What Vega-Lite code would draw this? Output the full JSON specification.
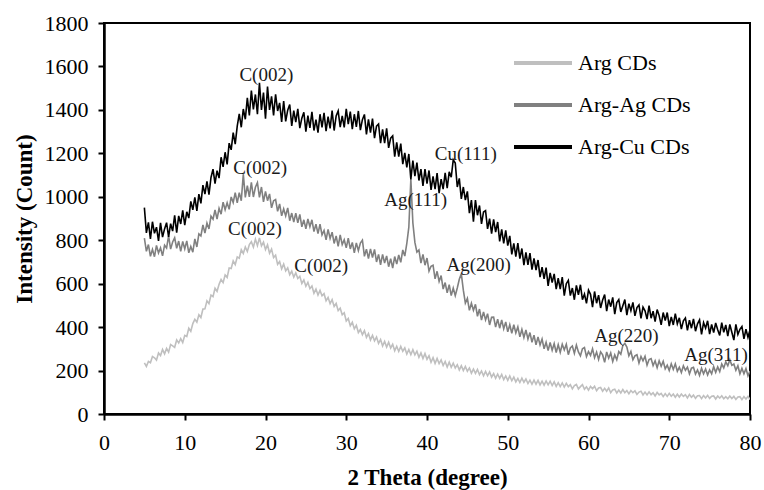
{
  "$schema": "https://vega.github.io/schema/vega-lite/v6.json",
  "width": 646,
  "height": 391,
  "autosize": {"type": "none"},
  "padding": {"left": 104, "top": 23, "right": 14, "bottom": 76},
  "config": {
    "font": "Liberation Serif",
    "view": {"stroke": "#000000", "strokeWidth": 2},
    "axis": {
      "domainColor": "#000000", "domainWidth": 2.5, "tickColor": "#000000", "tickWidth": 2, "tickSize": 6,
      "labelFont": "Liberation Serif", "labelFontSize": 22, "labelColor": "#000000",
      "titleFont": "Liberation Serif", "titleFontSize": 23, "titleFontWeight": "bold", "titleColor": "#000000",
      "grid": false
    },
    "legend": {"labelFont": "Liberation Serif", "labelFontSize": 22, "labelColor": "#000000"}
  },
  "datasets": {
    "xrd": [
{"x":5,"a":235,"b":810,"c":950},{"x":5.25,"a":219,"b":749,"c":834},{"x":5.5,"a":242,"b":780,"c":882},{"x":5.75,"a":236,"b":726,"c":806},
{"x":6,"a":265,"b":758,"c":885},{"x":6.25,"a":259,"b":724,"c":832},{"x":6.5,"a":248,"b":776,"c":860},{"x":6.75,"a":281,"b":741,"c":797},
{"x":7,"a":269,"b":765,"c":880},{"x":7.25,"a":297,"b":728,"c":814},{"x":7.5,"a":277,"b":777,"c":852},{"x":7.75,"a":302,"b":764,"c":881},
{"x":8,"a":285,"b":820,"c":815},{"x":8.25,"a":320,"b":759,"c":876},{"x":8.5,"a":314,"b":792,"c":842},{"x":8.75,"a":307,"b":811,"c":914},
{"x":9,"a":341,"b":763,"c":835},{"x":9.25,"a":327,"b":796,"c":912},{"x":9.5,"a":347,"b":749,"c":875},{"x":9.75,"a":329,"b":794,"c":937},
{"x":10,"a":362,"b":760,"c":870},{"x":10.25,"a":357,"b":797,"c":931},{"x":10.5,"a":395,"b":742,"c":902},{"x":10.75,"a":381,"b":771,"c":979},
{"x":11,"a":416,"b":745,"c":940},{"x":11.25,"a":436,"b":806,"c":997},{"x":11.5,"a":423,"b":769,"c":935},{"x":11.75,"a":457,"b":829,"c":1012},
{"x":12,"a":444,"b":820,"c":970},{"x":12.25,"a":483,"b":870,"c":1054},{"x":12.5,"a":484,"b":833,"c":1012},{"x":12.75,"a":521,"b":879,"c":1071},
{"x":13,"a":508,"b":852,"c":1010},{"x":13.25,"a":547,"b":911,"c":1089},{"x":13.5,"a":540,"b":897,"c":1127},{"x":13.75,"a":579,"b":939,"c":1061},
{"x":14,"a":565,"b":897,"c":1120},{"x":14.25,"a":597,"b":947,"c":1086},{"x":14.5,"a":619,"b":920,"c":1182},{"x":14.75,"a":605,"b":975,"c":1138},
{"x":15,"a":640,"b":940,"c":1205},{"x":15.25,"a":629,"b":972,"c":1149},{"x":15.5,"a":672,"b":942,"c":1247},{"x":15.75,"a":670,"b":999,"c":1216},
{"x":16,"a":705,"b":973,"c":1295},{"x":16.25,"a":688,"b":1019,"c":1242},{"x":16.5,"a":723,"b":972,"c":1325},{"x":16.75,"a":717,"b":1019,"c":1382},
{"x":17,"a":756,"b":982,"c":1320},{"x":17.25,"a":739,"b":1104,"c":1404},{"x":17.5,"a":769,"b":997,"c":1357},{"x":17.75,"a":748,"b":1051,"c":1456},
{"x":18,"a":780,"b":1000,"c":1375},{"x":18.25,"a":793,"b":1066,"c":1489},{"x":18.5,"a":768,"b":999,"c":1402},{"x":18.75,"a":805,"b":1044,"c":1471},
{"x":19,"a":775,"b":1065,"c":1380},{"x":19.25,"a":811,"b":997,"c":1525},{"x":19.5,"a":774,"b":1045,"c":1400},{"x":19.75,"a":791,"b":977,"c":1480},
{"x":20,"a":757,"b":1025,"c":1360},{"x":20.25,"a":779,"b":982,"c":1507},{"x":20.5,"a":740,"b":1013,"c":1400},{"x":20.75,"a":759,"b":949,"c":1462},
{"x":21,"a":720,"b":982,"c":1375},{"x":21.25,"a":731,"b":987,"c":1472},{"x":21.5,"a":689,"b":933,"c":1395},{"x":21.75,"a":702,"b":967,"c":1432},
{"x":22,"a":668,"b":912,"c":1345},{"x":22.25,"a":690,"b":944,"c":1441},{"x":22.5,"a":659,"b":912,"c":1347},{"x":22.75,"a":673,"b":949,"c":1399},
{"x":23,"a":641,"b":890,"c":1425},{"x":23.25,"a":657,"b":925,"c":1326},{"x":23.5,"a":630,"b":883,"c":1397},{"x":23.75,"a":650,"b":925,"c":1344},
{"x":24,"a":624,"b":880,"c":1405},{"x":24.25,"a":634,"b":919,"c":1316},{"x":24.5,"a":601,"b":862,"c":1362},{"x":24.75,"a":617,"b":894,"c":1389},
{"x":25,"a":588,"b":852,"c":1300},{"x":25.25,"a":606,"b":898,"c":1374},{"x":25.5,"a":577,"b":862,"c":1317},{"x":25.75,"a":589,"b":894,"c":1391},
{"x":26,"a":556,"b":840,"c":1305},{"x":26.25,"a":575,"b":874,"c":1355},{"x":26.5,"a":548,"b":830,"c":1295},{"x":26.75,"a":569,"b":874,"c":1380},
{"x":27,"a":544,"b":825,"c":1320},{"x":27.25,"a":554,"b":845,"c":1386},{"x":27.5,"a":521,"b":802,"c":1302},{"x":27.75,"a":537,"b":850,"c":1369},
{"x":28,"a":508,"b":808,"c":1315},{"x":28.25,"a":526,"b":837,"c":1397},{"x":28.5,"a":495,"b":785,"c":1305},{"x":28.75,"a":509,"b":820,"c":1372},
{"x":29,"a":476,"b":772,"c":1395},{"x":29.25,"a":487,"b":825,"c":1321},{"x":29.5,"a":457,"b":780,"c":1372},{"x":29.75,"a":466,"b":802,"c":1319},
{"x":30,"a":428,"b":765,"c":1405},{"x":30.25,"a":440,"b":810,"c":1334},{"x":30.5,"a":406,"b":760,"c":1392},{"x":30.75,"a":422,"b":790,"c":1311},
{"x":31,"a":392,"b":742,"c":1380},{"x":31.25,"a":408,"b":788,"c":1322},{"x":31.5,"a":375,"b":752,"c":1395},{"x":31.75,"a":389,"b":787,"c":1307},
{"x":32,"a":365,"b":800,"c":1355},{"x":32.25,"a":384,"b":726,"c":1379},{"x":32.5,"a":353,"b":759,"c":1287},{"x":32.75,"a":370,"b":716,"c":1356},
{"x":33,"a":341,"b":760,"c":1295},{"x":33.25,"a":362,"b":720,"c":1360},{"x":33.5,"a":337,"b":758,"c":1270},{"x":33.75,"a":354,"b":700,"c":1325},
{"x":34,"a":325,"b":735,"c":1335},{"x":34.25,"a":343,"b":687,"c":1247},{"x":34.5,"a":313,"b":735,"c":1310},{"x":34.75,"a":334,"b":695,"c":1247},
{"x":35,"a":308,"b":728,"c":1315},{"x":35.25,"a":330,"b":678,"c":1225},{"x":35.5,"a":304,"b":715,"c":1270},{"x":35.75,"a":321,"b":672,"c":1280},
{"x":36,"a":291,"b":725,"c":1185},{"x":36.25,"a":312,"b":690,"c":1250},{"x":36.5,"a":288,"b":732,"c":1185},{"x":36.75,"a":311,"b":698,"c":1245},
{"x":37,"a":289,"b":755,"c":1150},{"x":37.25,"a":304,"b":727,"c":1202},{"x":37.5,"a":276,"b":785,"c":1135},{"x":37.75,"a":297,"b":860,"c":1197},
{"x":38,"a":273,"b":1080,"c":1080},{"x":38.25,"a":296,"b":880,"c":1167},{"x":38.5,"a":272,"b":790,"c":1095},{"x":38.75,"a":289,"b":745,"c":1157},
{"x":39,"a":261,"b":755,"c":1075},{"x":39.25,"a":281,"b":695,"c":1127},{"x":39.5,"a":255,"b":735,"c":1050},{"x":39.75,"a":278,"b":685,"c":1127},
{"x":40,"a":252,"b":718,"c":1060},{"x":40.25,"a":268,"b":658,"c":1121},{"x":40.5,"a":238,"b":680,"c":1032},{"x":40.75,"a":259,"b":685,"c":1094},
{"x":41,"a":233,"b":622,"c":1035},{"x":41.25,"a":256,"b":657,"c":1109},{"x":41.5,"a":232,"b":610,"c":1017},{"x":41.75,"a":249,"b":637,"c":1081},
{"x":42,"a":223,"b":575,"c":1035},{"x":42.25,"a":242,"b":605,"c":1110},{"x":42.5,"a":216,"b":558,"c":1040},{"x":42.75,"a":239,"b":595,"c":1115},
{"x":43,"a":215,"b":545,"c":1090},{"x":43.25,"a":234,"b":580,"c":1170},{"x":43.5,"a":212,"b":545,"c":1155},{"x":43.75,"a":227,"b":580,"c":1045},
{"x":44,"a":203,"b":620,"c":1085},{"x":44.25,"a":222,"b":645,"c":990},{"x":44.5,"a":200,"b":570,"c":1045},{"x":44.75,"a":219,"b":510,"c":985},
{"x":45,"a":197,"b":532,"c":1025},{"x":45.25,"a":212,"b":477,"c":925},{"x":45.5,"a":188,"b":510,"c":985},{"x":45.75,"a":207,"b":477,"c":885},
{"x":46,"a":187,"b":505,"c":985},{"x":46.25,"a":205,"b":450,"c":915},{"x":46.5,"a":181,"b":483,"c":960},{"x":46.75,"a":198,"b":432,"c":875},
{"x":47,"a":176,"b":470,"c":930},{"x":47.25,"a":196,"b":433,"c":936},{"x":47.5,"a":176,"b":462,"c":852},{"x":47.75,"a":194,"b":410,"c":899},
{"x":48,"a":170,"b":445,"c":830},{"x":48.25,"a":186,"b":446,"c":896},{"x":48.5,"a":164,"b":400,"c":837},{"x":48.75,"a":184,"b":437,"c":884},
{"x":49,"a":164,"b":395,"c":795},{"x":49.25,"a":182,"b":433,"c":850},{"x":49.5,"a":158,"b":392,"c":785},{"x":49.75,"a":175,"b":424,"c":845},
{"x":50,"a":155,"b":378,"c":775},{"x":50.25,"a":175,"b":411,"c":820},{"x":50.5,"a":153,"b":372,"c":735},{"x":50.75,"a":170,"b":411,"c":785},
{"x":51,"a":148,"b":373,"c":725},{"x":51.25,"a":164,"b":401,"c":787},{"x":51.5,"a":145,"b":355,"c":715},{"x":51.75,"a":165,"b":389,"c":762},
{"x":52,"a":146,"b":352,"c":685},{"x":52.25,"a":161,"b":387,"c":744},{"x":52.5,"a":140,"b":345,"c":687},{"x":52.75,"a":156,"b":375,"c":741},
{"x":53,"a":137,"b":330,"c":665},{"x":53.25,"a":156,"b":363,"c":716},{"x":53.5,"a":137,"b":318,"c":662},{"x":53.75,"a":155,"b":355,"c":709},
{"x":54,"a":134,"b":318,"c":630},{"x":54.25,"a":151,"b":345,"c":676},{"x":54.5,"a":133,"b":300,"c":622},{"x":54.75,"a":152,"b":330,"c":674},
{"x":55,"a":134,"b":292,"c":590},{"x":55.25,"a":151,"b":329,"c":650},{"x":55.5,"a":131,"b":293,"c":605},{"x":55.75,"a":148,"b":324,"c":645},
{"x":56,"a":127,"b":283,"c":575},{"x":56.25,"a":144,"b":319,"c":625},{"x":56.5,"a":126,"b":284,"c":575},{"x":56.75,"a":143,"b":321,"c":630},
{"x":57,"a":124,"b":295,"c":545},{"x":57.25,"a":141,"b":321,"c":600},{"x":57.5,"a":126,"b":273,"c":615},{"x":57.75,"a":135,"b":304,"c":545},
{"x":58,"a":116,"b":313,"c":580},{"x":58.25,"a":131,"b":279,"c":526},{"x":58.5,"a":136,"b":317,"c":592},{"x":58.75,"a":115,"b":286,"c":549},
{"x":59,"a":126,"b":268,"c":595},{"x":59.25,"a":135,"b":300,"c":526},{"x":59.5,"a":114,"b":306,"c":552},{"x":59.75,"a":125,"b":264,"c":509},
{"x":60,"a":110,"b":287,"c":570},{"x":60.25,"a":127,"b":270,"c":551},{"x":60.5,"a":116,"b":300,"c":492},{"x":60.75,"a":128,"b":259,"c":564},
{"x":61,"a":107,"b":285,"c":510},{"x":61.25,"a":120,"b":251,"c":547},{"x":61.5,"a":122,"b":286,"c":488},{"x":61.75,"a":105,"b":272,"c":525},
{"x":62,"a":118,"b":238,"c":550},{"x":62.25,"a":105,"b":286,"c":474},{"x":62.5,"a":120,"b":257,"c":527},{"x":62.75,"a":98,"b":281,"c":494},
{"x":63,"a":111,"b":242,"c":537},{"x":63.25,"a":114,"b":272,"c":460},{"x":63.5,"a":97,"b":250,"c":513},{"x":63.75,"a":110,"b":287,"c":527},
{"x":64,"a":97,"b":275,"c":470},{"x":64.25,"a":113,"b":315,"c":498},{"x":64.5,"a":98,"b":325,"c":527},{"x":64.75,"a":108,"b":308,"c":455},
{"x":65,"a":93,"b":268,"c":508},{"x":65.25,"a":108,"b":288,"c":476},{"x":65.5,"a":98,"b":250,"c":514},{"x":65.75,"a":107,"b":268,"c":452},
{"x":66,"a":90,"b":273,"c":490},{"x":66.25,"a":101,"b":235,"c":502},{"x":66.5,"a":105,"b":265,"c":440},{"x":66.75,"a":88,"b":245,"c":492},
{"x":67,"a":101,"b":266,"c":475},{"x":67.25,"a":88,"b":225,"c":437},{"x":67.5,"a":102,"b":251,"c":499},{"x":67.75,"a":89,"b":255,"c":441},
{"x":68,"a":98,"b":223,"c":473},{"x":68.25,"a":83,"b":245,"c":425},{"x":68.5,"a":99,"b":213,"c":481},{"x":68.75,"a":88,"b":245,"c":453},
{"x":69,"a":95,"b":220,"c":410},{"x":69.25,"a":80,"b":243,"c":467},{"x":69.5,"a":94,"b":208,"c":430},{"x":69.75,"a":81,"b":225,"c":467},
{"x":70,"a":95,"b":200,"c":405},{"x":70.25,"a":82,"b":231,"c":447},{"x":70.5,"a":92,"b":205,"c":410},{"x":70.75,"a":77,"b":231,"c":462},
{"x":71,"a":91,"b":197,"c":415},{"x":71.25,"a":78,"b":215,"c":443},{"x":71.5,"a":92,"b":191,"c":391},{"x":71.75,"a":81,"b":222,"c":429},
{"x":72,"a":89,"b":201,"c":442},{"x":72.25,"a":74,"b":216,"c":385},{"x":72.5,"a":90,"b":185,"c":432},{"x":72.75,"a":77,"b":211,"c":395},
{"x":73,"a":87,"b":215,"c":438},{"x":73.25,"a":72,"b":184,"c":381},{"x":73.5,"a":84,"b":203,"c":415},{"x":73.75,"a":85,"b":178,"c":433},
{"x":74,"a":71,"b":210,"c":367},{"x":74.25,"a":85,"b":185,"c":421},{"x":74.5,"a":74,"b":207,"c":395},{"x":74.75,"a":86,"b":180,"c":429},
{"x":75,"a":72,"b":203,"c":368},{"x":75.25,"a":82,"b":185,"c":412},{"x":75.5,"a":83,"b":218,"c":375},{"x":75.75,"a":69,"b":192,"c":419},
{"x":76,"a":83,"b":217,"c":388},{"x":76.25,"a":73,"b":195,"c":362},{"x":76.5,"a":84,"b":230,"c":421},{"x":76.75,"a":70,"b":212,"c":376},
{"x":77,"a":80,"b":240,"c":410},{"x":77.25,"a":70,"b":222,"c":359},{"x":77.5,"a":83,"b":250,"c":412},{"x":77.75,"a":71,"b":224,"c":376},
{"x":78,"a":81,"b":230,"c":340},{"x":78.25,"a":67,"b":201,"c":413},{"x":78.5,"a":78,"b":222,"c":366},{"x":78.75,"a":80,"b":185,"c":390},
{"x":79,"a":66,"b":210,"c":403},{"x":79.25,"a":80,"b":185,"c":346},{"x":79.5,"a":69,"b":209,"c":390},{"x":79.75,"a":81,"b":176,"c":353},
{"x":80,"a":67,"b":198,"c":387}
    ],
    "ann": [
      {"x": 20.1, "y": 1560, "t": "C(002)"},
      {"x": 19.35, "y": 1132, "t": "C(002)"},
      {"x": 18.7, "y": 852, "t": "C(002)"},
      {"x": 26.9, "y": 681, "t": "C(002)"},
      {"x": 44.8, "y": 1197, "t": "Cu(111)"},
      {"x": 38.6, "y": 985, "t": "Ag(111)"},
      {"x": 46.4, "y": 686, "t": "Ag(200)"},
      {"x": 64.7, "y": 359, "t": "Ag(220)"},
      {"x": 75.8, "y": 272, "t": "Ag(311)"}
    ]
  },
  "layer": [
    {
      "data": {"name": "xrd"},
      "transform": [{"fold": ["a", "b", "c"], "as": ["s", "y"]}],
      "mark": {"type": "line", "strokeWidth": 1.6, "clip": true},
      "encoding": {
        "x": {
          "field": "x", "type": "quantitative",
          "scale": {"domain": [0, 80], "nice": false},
          "axis": {"values": [0, 10, 20, 30, 40, 50, 60, 70, 80], "labelFlush": false, "title": "2 Theta (degree)", "labelPadding": 12, "titlePadding": 13}
        },
        "y": {
          "field": "y", "type": "quantitative",
          "scale": {"domain": [0, 1800], "nice": false},
          "axis": {"values": [0, 200, 400, 600, 800, 1000, 1200, 1400, 1600, 1800], "format": "d", "title": "Intensity (Count)", "labelPadding": 10, "titlePadding": 8}
        },
        "color": {
          "field": "s", "type": "nominal",
          "scale": {"domain": ["a", "b", "c"], "range": ["#BFBFBF", "#808080", "#000000"]},
          "legend": {
            "title": null, "orient": "none", "legendX": 408, "legendY": 9,
            "symbolType": "stroke", "symbolSize": 3364, "symbolStrokeWidth": 4,
            "labelOffset": 4, "rowPadding": 0, "padding": 0,
            "labelExpr": "datum.label == 'a' ? 'Arg CDs' : datum.label == 'b' ? 'Arg-Ag CDs' : 'Arg-Cu CDs'"
          }
        },
        "order": {"field": "x", "type": "quantitative"}
      }
    },
    {
      "data": {"name": "ann"},
      "mark": {"type": "text", "font": "Liberation Serif", "fontSize": 19, "color": "#1a1a1a", "align": "center", "baseline": "middle"},
      "encoding": {
        "x": {"field": "x", "type": "quantitative"},
        "y": {"field": "y", "type": "quantitative"},
        "text": {"field": "t"}
      }
    }
  ]
}
